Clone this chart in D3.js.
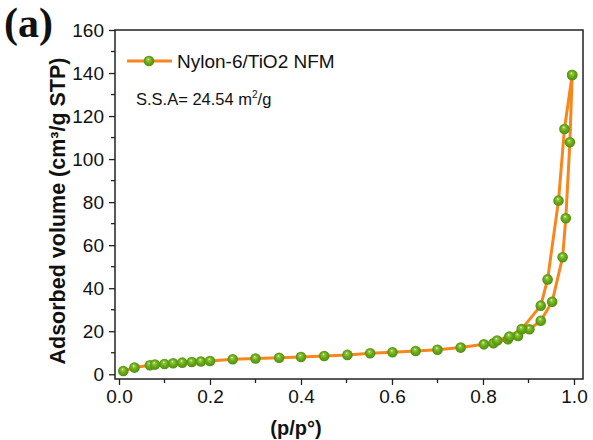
<!DOCTYPE html>
<html><head><meta charset="utf-8">
<script src="https://cdn.jsdelivr.net/npm/d3@7"></script>
<style>body{margin:0;background:#fff}svg{display:block}</style>
</head><body><svg id="c" width="593" height="440"></svg>
<script>
// Adsorption branch
const adsP = [0.0095,0.034,0.068,0.079,0.10,0.119,0.139,0.16,0.18,0.20,0.25,0.30,0.352,0.40,0.451,0.502,0.552,0.601,0.652,0.70,0.751,0.802,0.823,0.855,0.877,0.902,0.927,0.952,0.975,0.982,0.991,0.996];
const adsV = [1.5,3.1,4.2,4.5,4.8,5.1,5.4,5.7,5.9,6.2,7.0,7.3,7.7,8.0,8.5,9.0,9.8,10.2,10.8,11.4,12.4,13.9,14.4,16.3,17.8,20.9,24.9,33.7,54.4,72.5,107.8,139.1];
// Desorption branch
const desP = [0.996,0.979,0.966,0.942,0.927,0.885,0.858,0.831];
const desV = [139.1,114.0,80.7,44.1,31.9,21.0,17.5,15.7];
const xTicks = [0.0,0.2,0.4,0.6,0.8,1.0];
const yTicks = [0,20,40,60,80,100,120,140,160];
const seriesName = "Nylon-6/TiO2 NFM";

const svg = d3.select("#c");
const L=115,R=583,T=30,B=379;
const x = d3.scaleLinear().domain([-0.0088,1.0198]).range([L,R]);
const y = d3.scaleLinear().domain([-2.2,160]).range([B,T]);

const defs = svg.append("defs");
const g = defs.append("radialGradient").attr("id","ball").attr("cx","0.5").attr("cy","0.5").attr("r","0.55").attr("fx","0.42").attr("fy","0.32");
g.append("stop").attr("offset","0").attr("stop-color","#f4fbe8");
g.append("stop").attr("offset","0.2").attr("stop-color","#92c93c");
g.append("stop").attr("offset","0.55").attr("stop-color","#66a818");
g.append("stop").attr("offset","1").attr("stop-color","#4e8a10");

const font = "'Liberation Sans', Arial, sans-serif";
// axes
const xAxis = d3.axisBottom(x).tickValues(xTicks).tickFormat(d3.format(".1f")).tickSize(6).tickPadding(5);
const yAxis = d3.axisLeft(y).tickValues(yTicks).tickFormat(d3.format("d")).tickSize(6).tickPadding(5);
const gx = svg.append("g").attr("transform",`translate(0,${B})`).call(xAxis);
const gy = svg.append("g").attr("transform",`translate(${L},0)`).call(yAxis);
[gx,gy].forEach(a=>{a.select(".domain").remove();a.selectAll("line").attr("stroke","#222").attr("stroke-width",1.3);a.selectAll("text").attr("font-family",font).attr("font-size",19).attr("fill","#111");});
// minor ticks
const xMinor=[0.1,0.3,0.5,0.7,0.9], yMinor=[10,30,50,70,90,110,130,150];
svg.append("g").selectAll("line").data(xMinor).join("line").attr("x1",d=>x(d)).attr("x2",d=>x(d)).attr("y1",B).attr("y2",B+4).attr("stroke","#222").attr("stroke-width",1.3);
svg.append("g").selectAll("line").data(yMinor).join("line").attr("y1",d=>y(d)).attr("y2",d=>y(d)).attr("x1",L).attr("x2",L-4).attr("stroke","#222").attr("stroke-width",1.3);
// frame
svg.append("rect").attr("x",L).attr("y",T).attr("width",R-L).attr("height",B-T).attr("fill","none").attr("stroke","#222").attr("stroke-width",1.5);

const line = d3.line().x(d=>x(d[0])).y(d=>y(d[1]));
const ads = adsP.map((p,i)=>[p,adsV[i]]);
const des = desP.map((p,i)=>[p,desV[i]]);
const orange="#f7861c";
[ads,des].forEach(s=>svg.append("path").datum(s).attr("d",line).attr("fill","none").attr("stroke",orange).attr("stroke-width",3).attr("stroke-linejoin","round"));
svg.append("g").selectAll("circle").data(ads.concat(des)).join("circle").attr("cx",d=>x(d[0])).attr("cy",d=>y(d[1])).attr("r",5.3).attr("fill","url(#ball)");

// legend
svg.append("line").attr("x1",127).attr("x2",172).attr("y1",61).attr("y2",61).attr("stroke",orange).attr("stroke-width",3);
svg.append("circle").attr("cx",149).attr("cy",61).attr("r",5.3).attr("fill","url(#ball)");
svg.append("text").attr("x",177).attr("y",68).attr("font-family",font).attr("font-size",19).attr("fill","#111").text(seriesName);
const t = svg.append("text").attr("x",136).attr("y",105).attr("font-family",font).attr("font-size",16.5).attr("fill","#111");
t.append("tspan").text("S.S.A= 24.54 m");
t.append("tspan").attr("dy",-7).attr("font-size",10).text("2");
t.append("tspan").attr("dy",7).text("/g");

// axis titles
svg.append("text").attr("transform","translate(65,211) rotate(-90)").attr("text-anchor","middle").attr("font-family",font).attr("font-weight","bold").attr("font-size",21.5).attr("fill","#111").text("Adsorbed volume (cm³/g STP)");
svg.append("text").attr("x",296).attr("y",435).attr("text-anchor","middle").attr("font-family",font).attr("font-weight","bold").attr("font-size",20).attr("fill","#111").text("(p/p°)");
svg.append("text").attr("x",4).attr("y",37).attr("font-family","'Liberation Serif','Times New Roman',serif").attr("font-weight","bold").attr("font-size",42).attr("fill","#111").text("(a)");
</script></body></html>
